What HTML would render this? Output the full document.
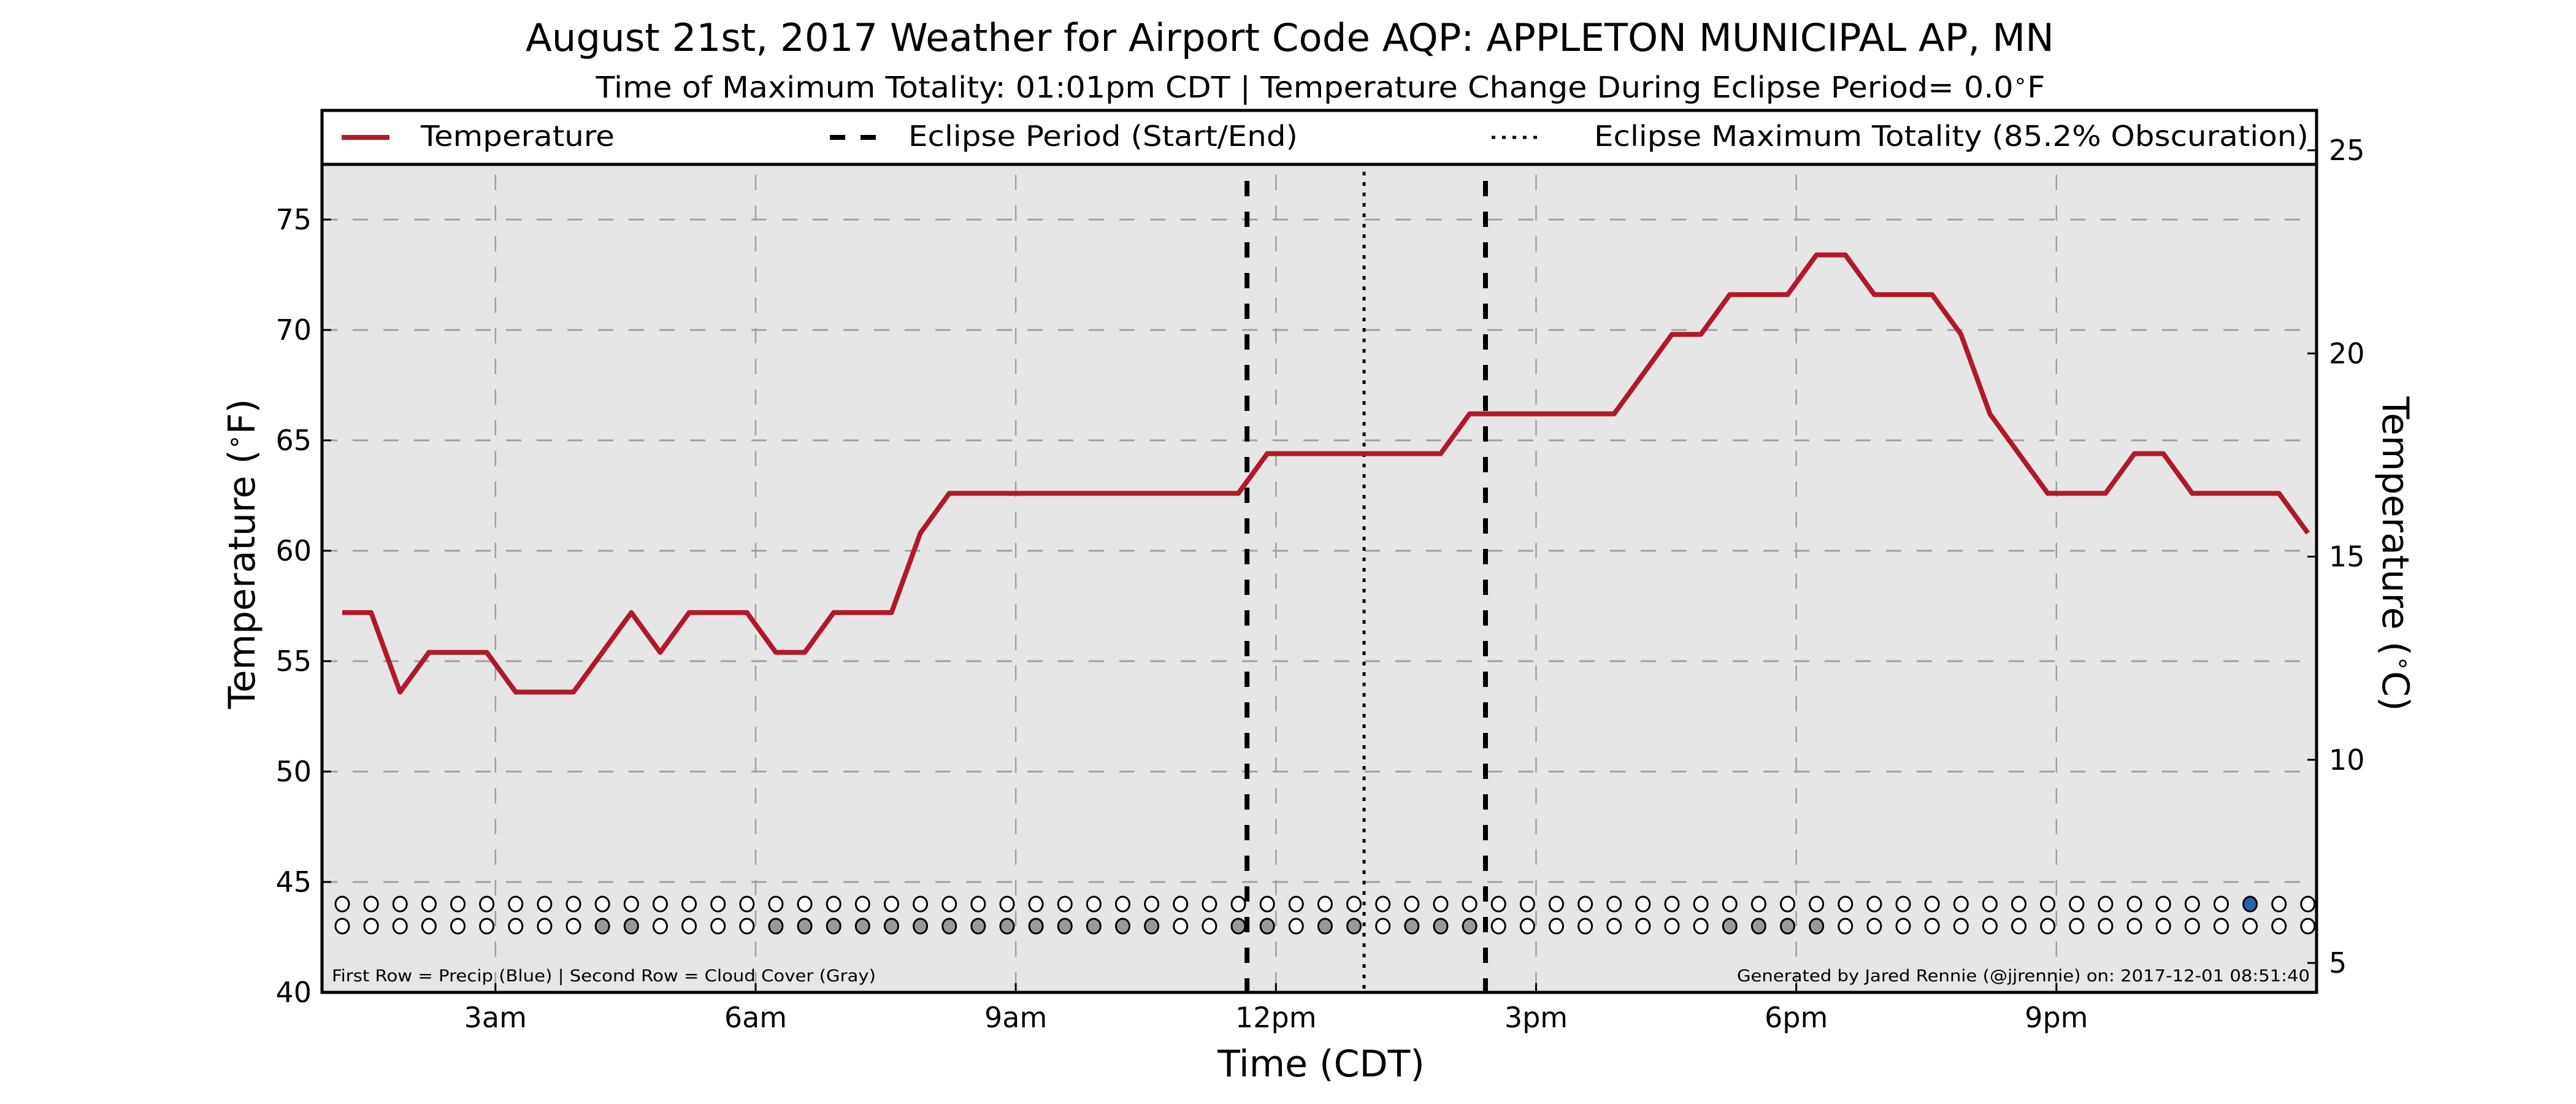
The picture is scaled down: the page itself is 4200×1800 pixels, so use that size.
<!DOCTYPE html>
<html><head><meta charset="utf-8"><style>
html,body{margin:0;padding:0;background:#fff}
svg{display:block;font-family:"DejaVu Sans","Liberation Sans",sans-serif}
</style></head><body>
<svg id="chart" width="4200" height="1800" viewBox="0 0 4200 1800" xmlns="http://www.w3.org/2000/svg">
<rect x="0" y="0" width="4200" height="1800" fill="#fff"/>
<text x="2103" y="83" font-size="62" text-anchor="middle" textLength="2492" lengthAdjust="spacingAndGlyphs">August 21st, 2017 Weather for Airport Code AQP: APPLETON MUNICIPAL AP, MN</text>
<text x="2153" y="159" font-size="48" text-anchor="middle" textLength="2363" lengthAdjust="spacingAndGlyphs">Time of Maximum Totality: 01:01pm CDT | Temperature Change During Eclipse Period= 0.0<tspan font-size="34" dy="-16">∘</tspan><tspan dy="16">F</tspan></text>
<rect x="525" y="180" width="3252" height="1438" fill="#e6e6e6"/>
<g id="grid"></g>
<g id="marks"></g>
<text x="541" y="1600" font-size="27" textLength="887" lengthAdjust="spacingAndGlyphs">First Row = Precip (Blue) | Second Row = Cloud Cover (Gray)</text>
<text x="3766" y="1600" font-size="27" text-anchor="end" textLength="934" lengthAdjust="spacingAndGlyphs">Generated by Jared Rennie (@jjrennie) on: 2017-12-01 08:51:40</text>
<rect x="525" y="180" width="3252" height="88" fill="#fff" stroke="#000" stroke-width="5"/>
<g>
<line x1="557" y1="224" x2="635" y2="224" stroke="#b2182b" stroke-width="8"/>
<text x="686" y="238" font-size="46" textLength="316" lengthAdjust="spacingAndGlyphs">Temperature</text></g>
<g>
<line x1="1353" y1="224" x2="1430" y2="224" stroke="#000" stroke-width="8" stroke-dasharray="25,25"/>
<text x="1481" y="238" font-size="46" textLength="635" lengthAdjust="spacingAndGlyphs">Eclipse Period (Start/End)</text></g>
<g>
<line x1="2432" y1="224" x2="2510" y2="224" stroke="#000" stroke-width="5" stroke-dasharray="6,11"/>
<text x="2599" y="238" font-size="46" textLength="1165" lengthAdjust="spacingAndGlyphs">Eclipse Maximum Totality (85.2% Obscuration)</text></g>
<rect x="525" y="180" width="3252" height="1438" fill="none" stroke="#000" stroke-width="5"/>
<g id="axes"></g>
<text x="2154" y="1755" font-size="60" text-anchor="middle">Time (CDT)</text>
<text transform="translate(415,903) rotate(-90)" font-size="60" text-anchor="middle">Temperature (<tspan font-size="40" dy="-20">∘</tspan><tspan dy="20">F)</tspan></text>
<text transform="translate(3885,903) rotate(90)" font-size="60" text-anchor="middle">Temperature (<tspan font-size="40" dy="-20">∘</tspan><tspan dy="20">C)</tspan></text>
</svg>
<script>
const times = ["01:14","01:34","01:54","02:14","02:34","02:54","03:14","03:34","03:54","04:14","04:34","04:54","05:14","05:34","05:54","06:14","06:34","06:54","07:14","07:34","07:54","08:14","08:34","08:54","09:14","09:34","09:54","10:14","10:34","10:54","11:14","11:34","11:54","12:14","12:34","12:54","13:14","13:34","13:54","14:14","14:34","14:54","15:14","15:34","15:54","16:14","16:34","16:54","17:14","17:34","17:54","18:14","18:34","18:54","19:14","19:34","19:54","20:14","20:34","20:54","21:14","21:34","21:54","22:14","22:34","22:54","23:14","23:34","23:54"];
const tempsF = [57.2,57.2,53.6,55.4,55.4,55.4,53.6,53.6,53.6,55.4,57.2,55.4,57.2,57.2,57.2,55.4,55.4,57.2,57.2,57.2,60.8,62.6,62.6,62.6,62.6,62.6,62.6,62.6,62.6,62.6,62.6,62.6,64.4,64.4,64.4,64.4,64.4,64.4,64.4,66.2,66.2,66.2,66.2,66.2,66.2,68.0,69.8,69.8,71.6,71.6,71.6,73.4,73.4,71.6,71.6,71.6,69.8,66.2,64.4,62.6,62.6,62.6,64.4,64.4,62.6,62.6,62.6,62.6,60.8];
const cloud = [0,0,0,0,0,0,0,0,0,1,1,0,0,0,0,1,1,1,1,1,1,1,1,1,1,1,1,1,1,0,0,1,1,0,1,1,0,1,1,1,0,0,0,0,0,0,0,0,1,1,1,1,0,0,0,0,0,0,0,0,0,0,0,0,0,0,0,0,0];
const precip = [0,0,0,0,0,0,0,0,0,0,0,0,0,0,0,0,0,0,0,0,0,0,0,0,0,0,0,0,0,0,0,0,0,0,0,0,0,0,0,0,0,0,0,0,0,0,0,0,0,0,0,0,0,0,0,0,0,0,0,0,0,0,0,0,0,0,1,0,0];
const eclipseStart = "11:40";
const eclipseMax = "13:01";
const eclipseEnd = "14:25";
const xTickHours = [3,6,9,12,15,18,21];
const xTickLabels = ["3am","6am","9am","12pm","3pm","6pm","9pm"];
const yTicksF = [40,45,50,55,60,65,70,75];
const yTicksC = [5,10,15,20,25];
const precipRowF = 44.0;
const cloudRowF = 43.0;

const NS = "http://www.w3.org/2000/svg";
const L=525,R=3777,T=180,B=1618;
function hrs(s){const p=s.split(":");return +p[0]+p[1]/60;}
function xS(h){return L+(h-1.0)/(24.0-1.0)*(R-L);}
function yF(f){return B-(f-40)*36;}
function yC(c){return 1570-(c-5)*66.25;}
function mk(tag,attrs,parent){const e=document.createElementNS(NS,tag);for(const k in attrs)e.setAttribute(k,attrs[k]);parent.appendChild(e);return e;}
const grid=document.getElementById('grid'),marks=document.getElementById('marks'),axes=document.getElementById('axes');

yTicksF.forEach(f=>{
  if(f>40){const g=mk('line',{x1:L,x2:R,y1:yF(f),y2:yF(f),stroke:'#a0a0a0','stroke-width':3,'stroke-dasharray':'25,25'},grid);
  
  }
  const t=mk('line',{x1:L,x2:L+15,y1:yF(f),y2:yF(f),stroke:'#000','stroke-width':3},axes);
  
  
  const lb=mk('text',{x:508,y:yF(f)+16,'font-size':46,'text-anchor':'end'},axes);
  lb.textContent=f;
  
  
});
yTicksC.forEach(c=>{
  const t=mk('line',{x1:R-15,x2:R,y1:yC(c),y2:yC(c),stroke:'#000','stroke-width':3},axes);
  
  
  const lb=mk('text',{x:3797,y:yC(c)+16,'font-size':46},axes);
  lb.textContent=c;
  
  
});
xTickHours.forEach((h,i)=>{
  const g=mk('line',{x1:xS(h),x2:xS(h),y1:285,y2:B,stroke:'#a0a0a0','stroke-width':2.5,'stroke-dasharray':'25,25'},grid);
  
  
  const t=mk('line',{x1:xS(h),x2:xS(h),y1:B-15,y2:B,stroke:'#000','stroke-width':3},axes);
  
  
  const lb=mk('text',{x:xS(h),y:1675,'font-size':46,'text-anchor':'middle'},axes);
  lb.textContent=xTickLabels[i];
  
  
});
// eclipse lines
[[eclipseStart,'eclipse-start-line'],[eclipseEnd,'eclipse-end-line']].forEach(([s,n])=>{
  const e=mk('line',{x1:xS(hrs(s)),x2:xS(hrs(s)),y1:295,y2:B,stroke:'#000','stroke-width':8,'stroke-dasharray':'25,25'},marks);
  
  
});
const em=mk('line',{x1:xS(hrs(eclipseMax)),x2:xS(hrs(eclipseMax)),y1:280,y2:B,stroke:'#000','stroke-width':5,'stroke-dasharray':'6,11'},marks);


// temperature line
const pts=times.map((s,i)=>xS(hrs(s)).toFixed(1)+','+yF(tempsF[i]).toFixed(1)).join(' ');
const tl=mk('polyline',{points:pts,fill:'none',stroke:'#b2182b','stroke-width':8,'stroke-linejoin':'round'},marks);


// circles
times.forEach((s,i)=>{
  const x=xS(hrs(s));
  const p=mk('ellipse',{cx:x,cy:yF(precipRowF),rx:11,ry:12,fill:precip[i]?'#2166ac':'#fff',stroke:'#000','stroke-width':3},marks);
  
  
  const c=mk('ellipse',{cx:x,cy:yF(cloudRowF),rx:11,ry:12,fill:cloud[i]?'#999999':'#fff',stroke:'#000','stroke-width':3},marks);
  
  
});
</script>
</body></html>
